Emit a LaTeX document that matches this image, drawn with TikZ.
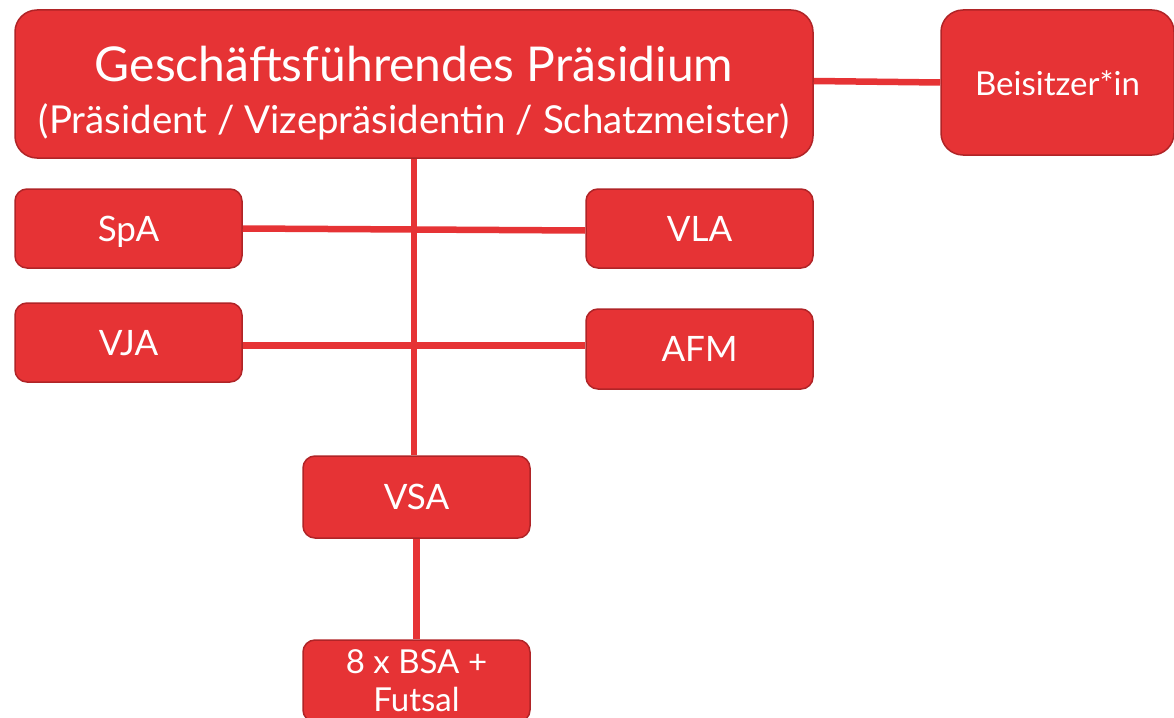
\documentclass[tikz,border=0pt]{standalone}
\usepackage{fontspec}
\setmainfont{Lato}
\definecolor{dfbrot}{HTML}{E63335}
\definecolor{dfbrand}{HTML}{B02427}
\begin{document}
\begin{tikzpicture}[x=1pt,y=-1pt,
  box/.style={draw=dfbrand,fill=dfbrot,line width=1.5pt,text=white,
    rounded corners=12pt,inner sep=0pt,align=center,
    minimum width=227pt,minimum height=79pt,font=\fontsize{35}{40}\selectfont},
  kurz/.style={box,text height=26pt,text depth=1pt},
  link/.style={dfbrot,line width=6.5pt}]
\useasboundingbox (0,0) rectangle (1174,717);
% Kopf
\node [box,rounded corners=22pt,minimum width=798pt,minimum height=148pt] (praesidium) at (414,84)
  {\fontsize{48}{47}\selectfont\rule{0pt}{53pt}Geschäftsführendes Präsidium\\[12pt]
   \fontsize{38.5}{47}\selectfont (Präsident / Vizepräsidentin / Schatzmeister)};
\node [kurz,rounded corners=22pt,minimum width=233pt,minimum height=145pt,
  font=\fontsize{33}{40}\selectfont] (beisitzer) at (1057.5,82.5) {Beisitzer*in};
% Ausschuesse
\node [kurz] (spa) at (128.5,228.5) {SpA};
\node [kurz] (vla) at (699.5,228.5) {VLA};
\node [kurz] (vja) at (128.5,342.5) {VJA};
\node [kurz,minimum height=80pt] (afm) at (699.5,349) {AFM};
\node [kurz,minimum height=82pt] (vsa) at (416.5,497) {VSA};
\node [box,minimum height=82pt,font=\fontsize{33}{38}\selectfont] (bsa) at (416.5,681) {8 x BSA +\\Futsal};
% Verbindungen
\draw [link] ([yshift=3pt]praesidium.east) -- (beisitzer.west);
\draw [link] (spa.east) -- ([yshift=-2pt]vla.west);
\draw [link] ([yshift=-3pt]vja.east) -- ([yshift=-3pt]vja.east -| afm.west);
\draw [link] (praesidium.south) -- (praesidium.south |- vsa.north);
\draw [link] (vsa.south) -- (bsa.north);
\end{tikzpicture}
\end{document}
